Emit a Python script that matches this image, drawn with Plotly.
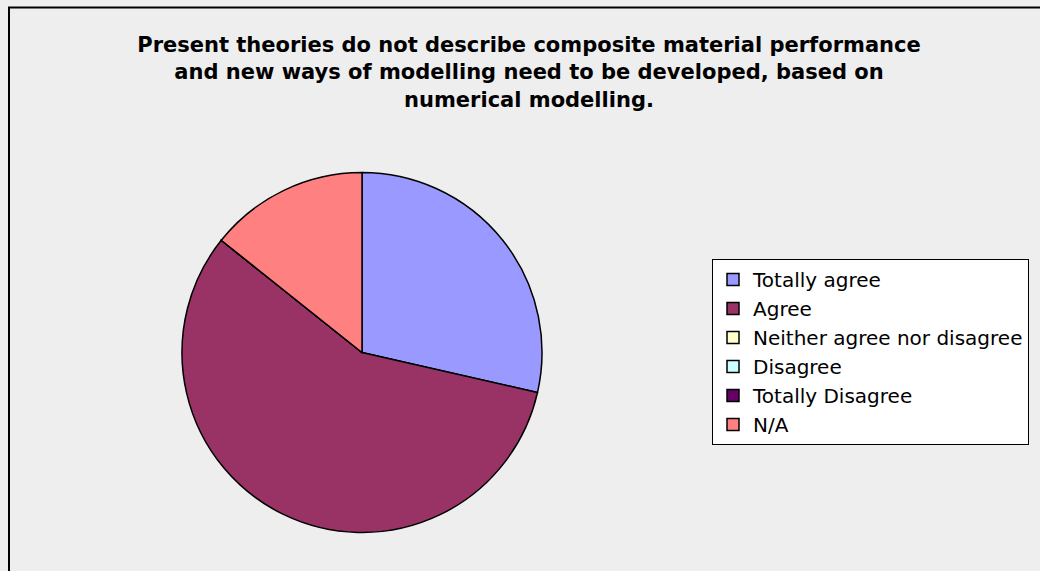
import plotly.graph_objects as go

categories = ["Totally agree", "Agree", "Neither agree nor disagree",
              "Disagree", "Totally Disagree", "N/A"]
values = [2, 4, 0, 0, 0, 1]
colors = ["#9999FF", "#993366", "#FFFFCC", "#CCFFFF", "#660066", "#FF8080"]

title_text = ("Present theories do not describe composite material performance<br>"
              "and new ways of modelling need to be developed, based on<br>"
              "numerical modelling.")

W, H = 1040, 571
cx, cy, r = 362, 352.5, 180

fig = go.Figure(go.Pie(
    labels=categories,
    values=values,
    sort=False,
    direction="clockwise",
    rotation=0,
    textinfo="none",
    hoverinfo="label+value+percent",
    marker=dict(colors=colors, line=dict(color="black", width=1.5)),
    domain=dict(x=[(cx - r) / W, (cx + r) / W],
                y=[(H - cy - r) / H, (H - cy + r) / H]),
))

fig.update_layout(
    width=W, height=H,
    margin=dict(l=0, r=0, t=0, b=0),
    paper_bgcolor="#EEEEEE",
    plot_bgcolor="#EEEEEE",
    title=dict(text="<b>" + title_text + "</b>", x=529 / W, xanchor="center",
               y=1 - 52 / H, yanchor="top",
               font=dict(family="DejaVu Sans", size=21, color="black")),
    showlegend=True,
    legend=dict(x=712 / W, xanchor="left", y=1 - 352 / H, yanchor="middle",
                bgcolor="white", bordercolor="black", borderwidth=1,
                font=dict(family="DejaVu Sans", size=20, color="black"),
                itemwidth=30, traceorder="normal"),
    shapes=[
        dict(type="rect", xref="paper", yref="paper",
             x0=9 / W, x1=1.05, y0=-0.05, y1=1 - 7.5 / H,
             line=dict(color="black", width=2), fillcolor="rgba(0,0,0,0)",
             layer="below"),
    ],
)

fig.write_html(
    "out.html",
    config={"displayModeBar": False},
    post_script="document.body.style.margin='0';"
                "document.body.style.overflow='hidden';",
)
